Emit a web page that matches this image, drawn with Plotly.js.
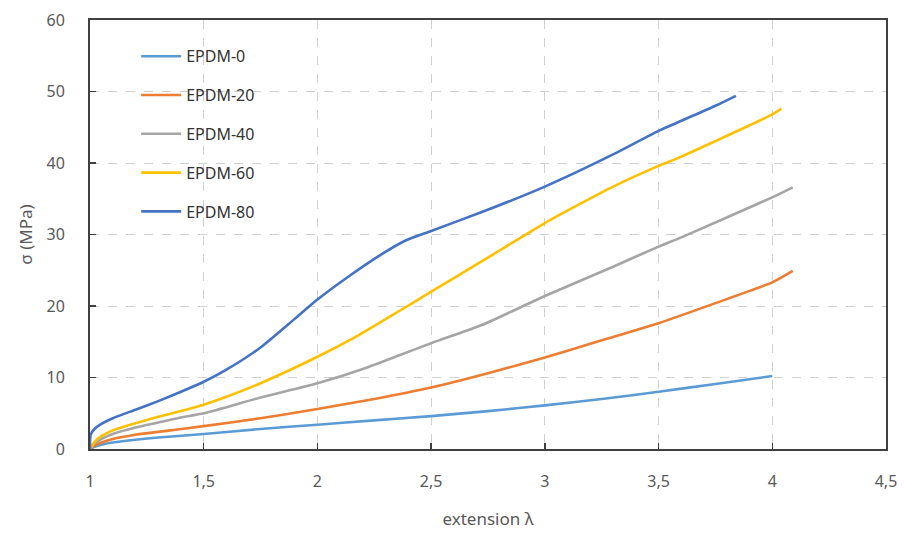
<!DOCTYPE html>
<html>
<head>
<meta charset="utf-8">
<script src="https://cdn.plot.ly/plotly-3.0.1.min.js"></script>
<style>html,body{margin:0;padding:0;background:#fff;}#chart{width:904px;height:533px;}</style>
</head>
<body>
<div id="chart"></div>
<script>
const seriesNames = ["EPDM-0", "EPDM-20", "EPDM-40", "EPDM-60", "EPDM-80"];
const seriesColors = ["#5B9BD5", "#ED7D31", "#A5A5A5", "#FFC000", "#4472C4"];

const x0 = [1, 1.02, 1.05, 1.1, 1.2, 1.3, 1.5, 1.75, 2.0, 2.25, 2.5, 2.75, 3.0, 3.25, 3.5, 3.75, 4.0];
const y0 = [0, 0.3, 0.6, 0.9, 1.3, 1.6, 2.1, 2.8, 3.4, 4.0, 4.6, 5.3, 6.1, 7.0, 8.0, 9.1, 10.2];

const x20 = [1, 1.02, 1.05, 1.1, 1.2, 1.3, 1.5, 1.75, 2.0, 2.25, 2.5, 2.75, 3.0, 3.25, 3.5, 3.75, 4.0, 4.09];
const y20 = [0, 0.5, 0.9, 1.4, 2.0, 2.4, 3.2, 4.3, 5.6, 7.0, 8.6, 10.6, 12.8, 15.2, 17.6, 20.4, 23.3, 24.9];

const x40 = [1, 1.02, 1.05, 1.1, 1.2, 1.3, 1.4, 1.5, 1.75, 2.0, 2.2, 2.36, 2.5, 2.72, 3.0, 3.3, 3.5, 3.6, 4.0, 4.09];
const y40 = [0, 0.8, 1.4, 2.1, 3.0, 3.7, 4.4, 5.0, 7.2, 9.2, 11.2, 13.1, 14.8, 17.3, 21.4, 25.5, 28.3, 29.6, 35.2, 36.6];

const x60 = [1, 1.02, 1.05, 1.1, 1.2, 1.3, 1.4, 1.5, 1.6, 1.75, 2.0, 2.18, 2.36, 2.5, 2.72, 3.0, 3.15, 3.3, 3.5, 3.6, 4.0, 4.04];
const y60 = [0, 1.0, 1.8, 2.6, 3.6, 4.5, 5.3, 6.2, 7.3, 9.2, 12.9, 15.9, 19.3, 22.0, 26.2, 31.6, 34.2, 36.7, 39.6, 40.9, 46.8, 47.6];

const x80 = [1, 1.003, 1.02, 1.05, 1.1, 1.2, 1.3, 1.4, 1.5, 1.6, 1.75, 1.9, 2.0, 2.14, 2.29, 2.39, 2.5, 2.72, 3.0, 3.3, 3.5, 3.65, 3.75, 3.84];
const y80 = [0, 2.0, 2.8, 3.5, 4.3, 5.5, 6.7, 8.0, 9.4, 11.1, 14.2, 18.2, 20.9, 24.2, 27.4, 29.2, 30.5, 33.1, 36.7, 41.2, 44.5, 46.6, 48.0, 49.4];

const xTickVals = [1, 1.5, 2, 2.5, 3, 3.5, 4, 4.5];
const xTickText = ["1", "1,5", "2", "2,5", "3", "3,5", "4", "4,5"];
const yTickVals = [0, 10, 20, 30, 40, 50, 60];

const xs = [x0, x20, x40, x60, x80];
const ys = [y0, y20, y40, y60, y80];

const traces = seriesNames.map((n, i) => ({
  x: xs[i], y: ys[i], name: n, type: "scatter", mode: "lines",
  legendgroup: n,
  line: {color: seriesColors[i], width: 2.6, shape: "spline", smoothing: 0.6}
}));

const font = {family: "Noto Sans, Open Sans, sans-serif", size: 16, color: "#595959"};

const layout = {
  width: 904, height: 533,
  margin: {l: 90, r: 18, t: 20, b: 84},
  paper_bgcolor: "#fff", plot_bgcolor: "#fff",
  font: font,
  showlegend: true,
  legend: {
    x: 0.058, y: 0.955, xanchor: "left", yanchor: "top",
    bgcolor: "rgba(0,0,0,0)",
    font: {family: "Noto Sans, sans-serif", size: 16, color: "#333"},
    tracegroupgap: 15, itemwidth: 40, traceorder: "grouped"
  },
  xaxis: {
    range: [1, 4.5], tickvals: xTickVals, ticktext: xTickText,
    showgrid: true, gridcolor: "#d0d0d0", griddash: "dash", gridwidth: 1,
    showline: true, linecolor: "#404040", linewidth: 2, mirror: true,
    ticks: "inside", ticklen: 6, tickcolor: "#404040", tickwidth: 1.5,
    ticklabelstandoff: 17,
    zeroline: false,
    title: {text: "extension λ", font: {family: "Noto Sans, sans-serif", size: 17, color: "#595959"}, standoff: 22}
  },
  yaxis: {
    range: [0, 60], tickvals: yTickVals,
    showgrid: true, gridcolor: "#d0d0d0", griddash: "dash", gridwidth: 1,
    showline: true, linecolor: "#404040", linewidth: 2, mirror: true,
    ticks: "inside", ticklen: 6, tickcolor: "#404040", tickwidth: 1.5,
    ticklabelstandoff: 20,
    zeroline: false,
    title: {text: "σ (MPa)", font: {family: "Noto Sans, sans-serif", size: 17, color: "#595959"}, standoff: 10}
  }
};

Plotly.newPlot("chart", traces, layout, {displayModeBar: false, staticPlot: true});
</script>
</body>
</html>
